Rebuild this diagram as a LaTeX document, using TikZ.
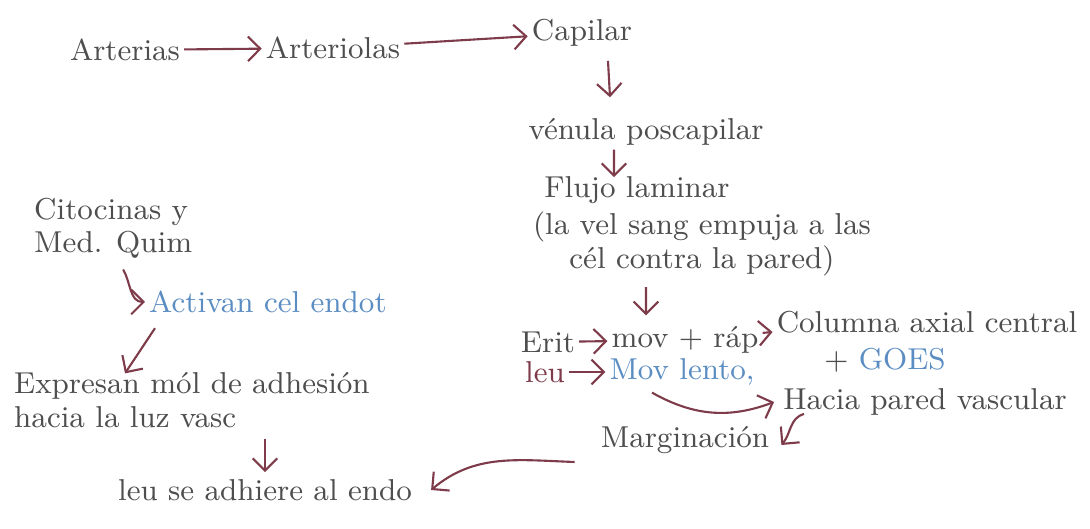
\documentclass[tikz,border=0pt]{standalone}
\usepackage{tikz}
\usetikzlibrary{positioning, arrows.meta, calc}
\definecolor{inkGray}{HTML}{4E4E4E}
\definecolor{inkRed}{HTML}{7E3B4A}
\definecolor{inkBlue}{HTML}{5B8DC2}
\tikzstyle{txt}=[inner sep=1pt, text=inkGray, font=\fontsize{8.6}{9.5}\selectfont]
\tikzstyle{blueTxt}=[txt, text=inkBlue]
\tikzstyle{arrow}=[->, line width=0.6pt, >={Straight Barb[length=3.5pt, width=7pt]}, draw=inkRed]

\begin{document}
\begin{tikzpicture}
      \useasboundingbox (0,0) rectangle (10.9,-5.29);
      % top row
      \node(arterias) [txt] at (1.25,-0.50) {Arterias};
      \node(arteriolas) [txt] at (3.33,-0.48) {Arteriolas};
      \node(capilar) [txt] at (5.82,-0.33) {Capilar};
      \draw [arrow] (arterias) -- (arteriolas);
      \draw [arrow] (arteriolas) -- (capilar);
      \node(venula) [txt] at (6.46,-1.32) {vénula poscapilar};
      \draw [arrow] ([xshift=2.6mm, yshift=-1mm]capilar.south) -- ([xshift=-3.6mm, yshift=1.7mm]venula.north);
      \node(flujo) [txt] at (6.37,-1.90) {Flujo laminar};
      \draw [arrow] ([xshift=-3.2mm]venula.south) -- ([xshift=-2.3mm, yshift=-0.5mm]flujo.north);
      \node(flujoTxt) [txt, align=center] at (7.02,-2.44) {(la vel sang empuja a las\\cél contra la pared)};
      % erit / leu
      \node(erit) [txt] at (5.48,-3.42) {Erit};
      \node(mov) [txt] at (6.85,-3.40) {mov + ráp};
      \node(columna) [txt] at (9.27,-3.22) {Columna axial central};
      \node(goes) [blueTxt] at (8.85,-3.60) {\textcolor{inkGray}{+} GOES};
      \draw [arrow] ([xshift=-5.6mm, yshift=-0.7mm]flujoTxt.south) -- ([xshift=-3.9mm, yshift=0.7mm]mov.north);
      \draw [arrow] (erit) -- (mov);
      \draw [arrow] (mov) -- ([yshift=-1mm]columna.west);
      \node(leu) [txt, text=inkRed] at (5.45,-3.72) {leu};
      \node(lento) [blueTxt] at (6.82,-3.72) {Mov lento,};
      \draw [arrow] (leu) -- (lento);
      \node(hacia) [txt] at (9.25,-4.02) {Hacia pared vascular};
      \node(marg) [txt] at (6.85,-4.40) {Marginación};
      \node(adhiere) [txt] at (2.65,-4.90) {leu se adhiere al endo};
      \draw [arrow] ([xshift=-3mm, yshift=-0.3mm]lento.south) to[bend right=25] ([xshift=-0.5mm]hacia.west);
      \draw [arrow] ([xshift=2.5mm, yshift=-1.2mm]hacia.west) to[out=195, in=50] ([xshift=0.8mm, yshift=-0.5mm]marg.east);
      \draw [arrow] ([xshift=-2.2mm, yshift=-2.2mm]marg.west) to[out=178, in=40] ([xshift=1.5mm]adhiere.east);
      % left branch
      \node(citocinas) [txt, align=left, anchor=west] at (0.30,-2.28) {Citocinas y\\Med. Quim};
      \node(activan) [blueTxt, anchor=west] at (1.45,-3.02) {Activan cel endot};
      \node(expresan) [txt, align=left, anchor=west] at (0.10,-4.00) {Expresan mól de adhesión\\hacia la luz vasc};
      \draw [arrow] ([xshift=1mm, yshift=-0.7mm]citocinas.south) to[out=-60, in=180] (activan.west);
      \draw [arrow] ([xshift=1mm, yshift=-1.1mm]activan.south west) -- ([xshift=11.5mm, yshift=-0.5mm]expresan.north west);
      \draw [arrow] ([yshift=-0.7mm]expresan.south -| adhiere.north) -- ([yshift=0.3mm]adhiere.north);
    \end{tikzpicture}
\end{document}
